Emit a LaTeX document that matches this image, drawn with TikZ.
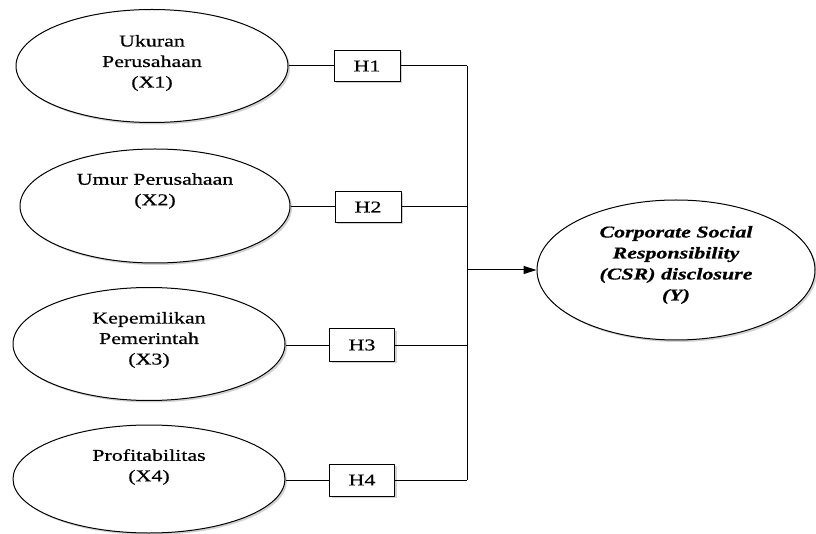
\documentclass[tikz,border=0pt]{standalone}
\usepackage{fontspec}
\setmainfont{Liberation Serif}[FakeStretch=1.33, FakeBold=0.6]
\usetikzlibrary{shapes.geometric,shadows,arrows.meta}
\begin{document}
\begin{tikzpicture}[x=1pt, y=-1pt, line join=round, font=\fontsize{16.5}{20.5}\selectfont,
    var/.style={ellipse, draw, fill=white, line width=1pt, inner sep=0pt,
        minimum width=272pt, minimum height=113pt,
        drop shadow={shadow xshift=2pt, shadow yshift=-2pt, fill=gray!70}},
    hbox/.style={rectangle, draw, fill=white, line width=1pt, inner sep=0pt,
        minimum width=66pt, minimum height=31pt,
        drop shadow={shadow xshift=2pt, shadow yshift=-2pt, fill=gray!70}},
    txt/.style={align=center, inner sep=0pt}]
    \useasboundingbox (0,0) rectangle (816,534);
    % Variabel independen
    \node[var] (x1) at (152,66) {};
    \node[var, minimum width=270pt, minimum height=114pt] (x2) at (155,206) {};
    \node[var] (x3) at (149,344) {};
    \node[var, minimum height=108pt] (x4) at (149,479) {};
    \node[txt] (x1txt) at (152,63) {Ukuran\\Perusahaan\\(X1)};
    \node[txt] (x2txt) at (155,191) {Umur Perusahaan\\(X2)};
    \node[txt] (x3txt) at (149,340) {Kepemilikan\\Pemerintah\\(X3)};
    \node[txt] (x4txt) at (149,467) {Profitabilitas\\(X4)};
    % Variabel dependen
    \node[var, minimum width=278pt, minimum height=140pt] (y) at (676,270) {};
    \node[txt, font=\fontsize{16.5}{21}\selectfont\bfseries\itshape] (ytxt) at (676,265)
        {Corporate Social\\Responsibility\\(CSR) disclosure\\(Y)};
    % Hipotesis
    \node[hbox] (h1) at (367,66) {H1};
    \node[hbox] (h2) at (368,207) {H2};
    \node[hbox, minimum width=65pt, minimum height=32pt] (h3) at (362,345) {H3};
    \node[hbox, minimum width=65pt, minimum height=32pt] (h4) at (362,480) {H4};
    \coordinate (bus) at (467,270);
    \foreach \i in {1,...,4}
        \draw[line width=1pt] (h\i.west -| x\i.east) -- (h\i.west) (h\i.east) -- (h\i.east -| bus);
    \draw[line width=1pt] (h1.east -| bus) -- (h4.east -| bus);
    \draw[line width=1pt, -{Triangle[length=13pt,width=8pt]}] (bus) -- (y);
\end{tikzpicture}
\end{document}
